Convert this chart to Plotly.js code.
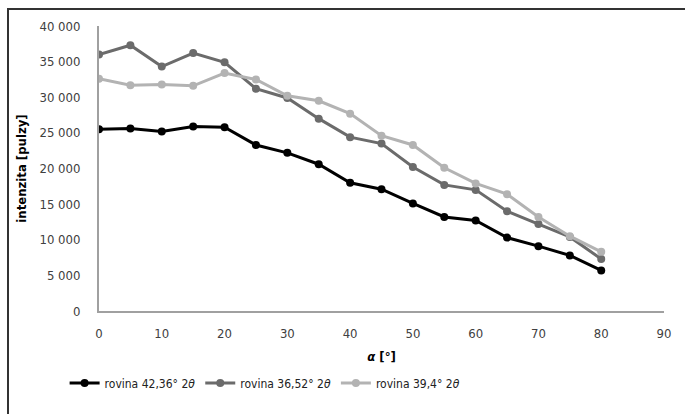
<!DOCTYPE html>
<html><head><meta charset="utf-8">
<script src="https://cdn.plot.ly/plotly-3.0.1.min.js"></script>
<style>
html,body{margin:0;padding:0;background:#fff;}
#wrap{position:relative;width:685px;height:414px;}
#frame{position:absolute;left:7px;top:8px;width:678px;height:406px;border-left:2px solid #333;border-top:2px solid #333;box-sizing:border-box;pointer-events:none;}
#chart{position:absolute;left:0;top:0;width:685px;height:414px;}
</style></head>
<body><div id="wrap"><div id="chart"></div><div id="frame"></div></div>
<script>
const alpha = [0,5,10,15,20,25,30,35,40,45,50,55,60,65,70,75,80];
const rovina4236 = [25500,25600,25200,25900,25800,23300,22200,20600,18000,17100,15100,13200,12700,10300,9100,7800,5700];
const rovina3652 = [36000,37300,34300,36200,34900,31200,29900,27000,24400,23500,20200,17700,17000,14000,12200,10400,7300];
const rovina394  = [32600,31700,31800,31600,33400,32500,30200,29500,27700,24600,23300,20100,17900,16400,13200,10500,8300];
const seriesNames = ['rovina 42,36° 2<i>θ</i>','rovina 36,52° 2<i>θ</i>','rovina 39,4° 2<i>θ</i>'];
const yTicks = [0,5000,10000,15000,20000,25000,30000,35000,40000];
const yTickText = ['0','5 000','10 000','15 000','20 000','25 000','30 000','35 000','40 000'];
const xTicks = [0,10,20,30,40,50,60,70,80,90];

const font = 'DejaVu Sans Condensed, Liberation Sans Narrow, Liberation Sans, sans-serif';
const colors = ['#000000','#6b6b6b','#b3b3b3'];
const data = [rovina4236, rovina3652, rovina394].map((v,i)=>({
  x: alpha, y: v, type:'scatter', mode:'lines+markers', name: seriesNames[i],
  line:{color:colors[i], width:3}, marker:{color:colors[i], size:8}
}));
const layout = {
  width:685, height:414,
  margin:{l:99, r:21, t:26, b:103},
  paper_bgcolor:'#fff', plot_bgcolor:'#fff',
  font:{family:font, size:12, color:'#404040'},
  xaxis:{range:[0,90], tickvals:xTicks, showgrid:false, zeroline:false,
    showline:true, linecolor:'#a0a0a0', linewidth:2, ticks:'', ticklabelstandoff:9,
    tickfont:{family:font,size:13,color:'#404040'},
    title:{text:'<b><i>α</i> [°]</b>', font:{family:font,size:13,color:'#000'}, standoff:12}},
  yaxis:{range:[0,40000], tickvals:yTicks, ticktext:yTickText, showgrid:false, zeroline:false,
    showline:true, linecolor:'#a0a0a0', linewidth:2, ticks:'', ticklabelstandoff:14,
    tickfont:{family:font,size:13,color:'#404040'},
    title:{text:'<b>intenzita [pulzy]</b>', font:{family:font,size:13,color:'#000'}, standoff:10}},
  legend:{orientation:'h', x:0.294, xanchor:'center', y:-0.253, yanchor:'middle',
    font:{family:font,size:12,color:'#222'}, itemwidth:30, traceorder:'normal'},
  showlegend:true
};
Plotly.newPlot('chart', data, layout, {displayModeBar:false, staticPlot:true});
</script></body></html>
